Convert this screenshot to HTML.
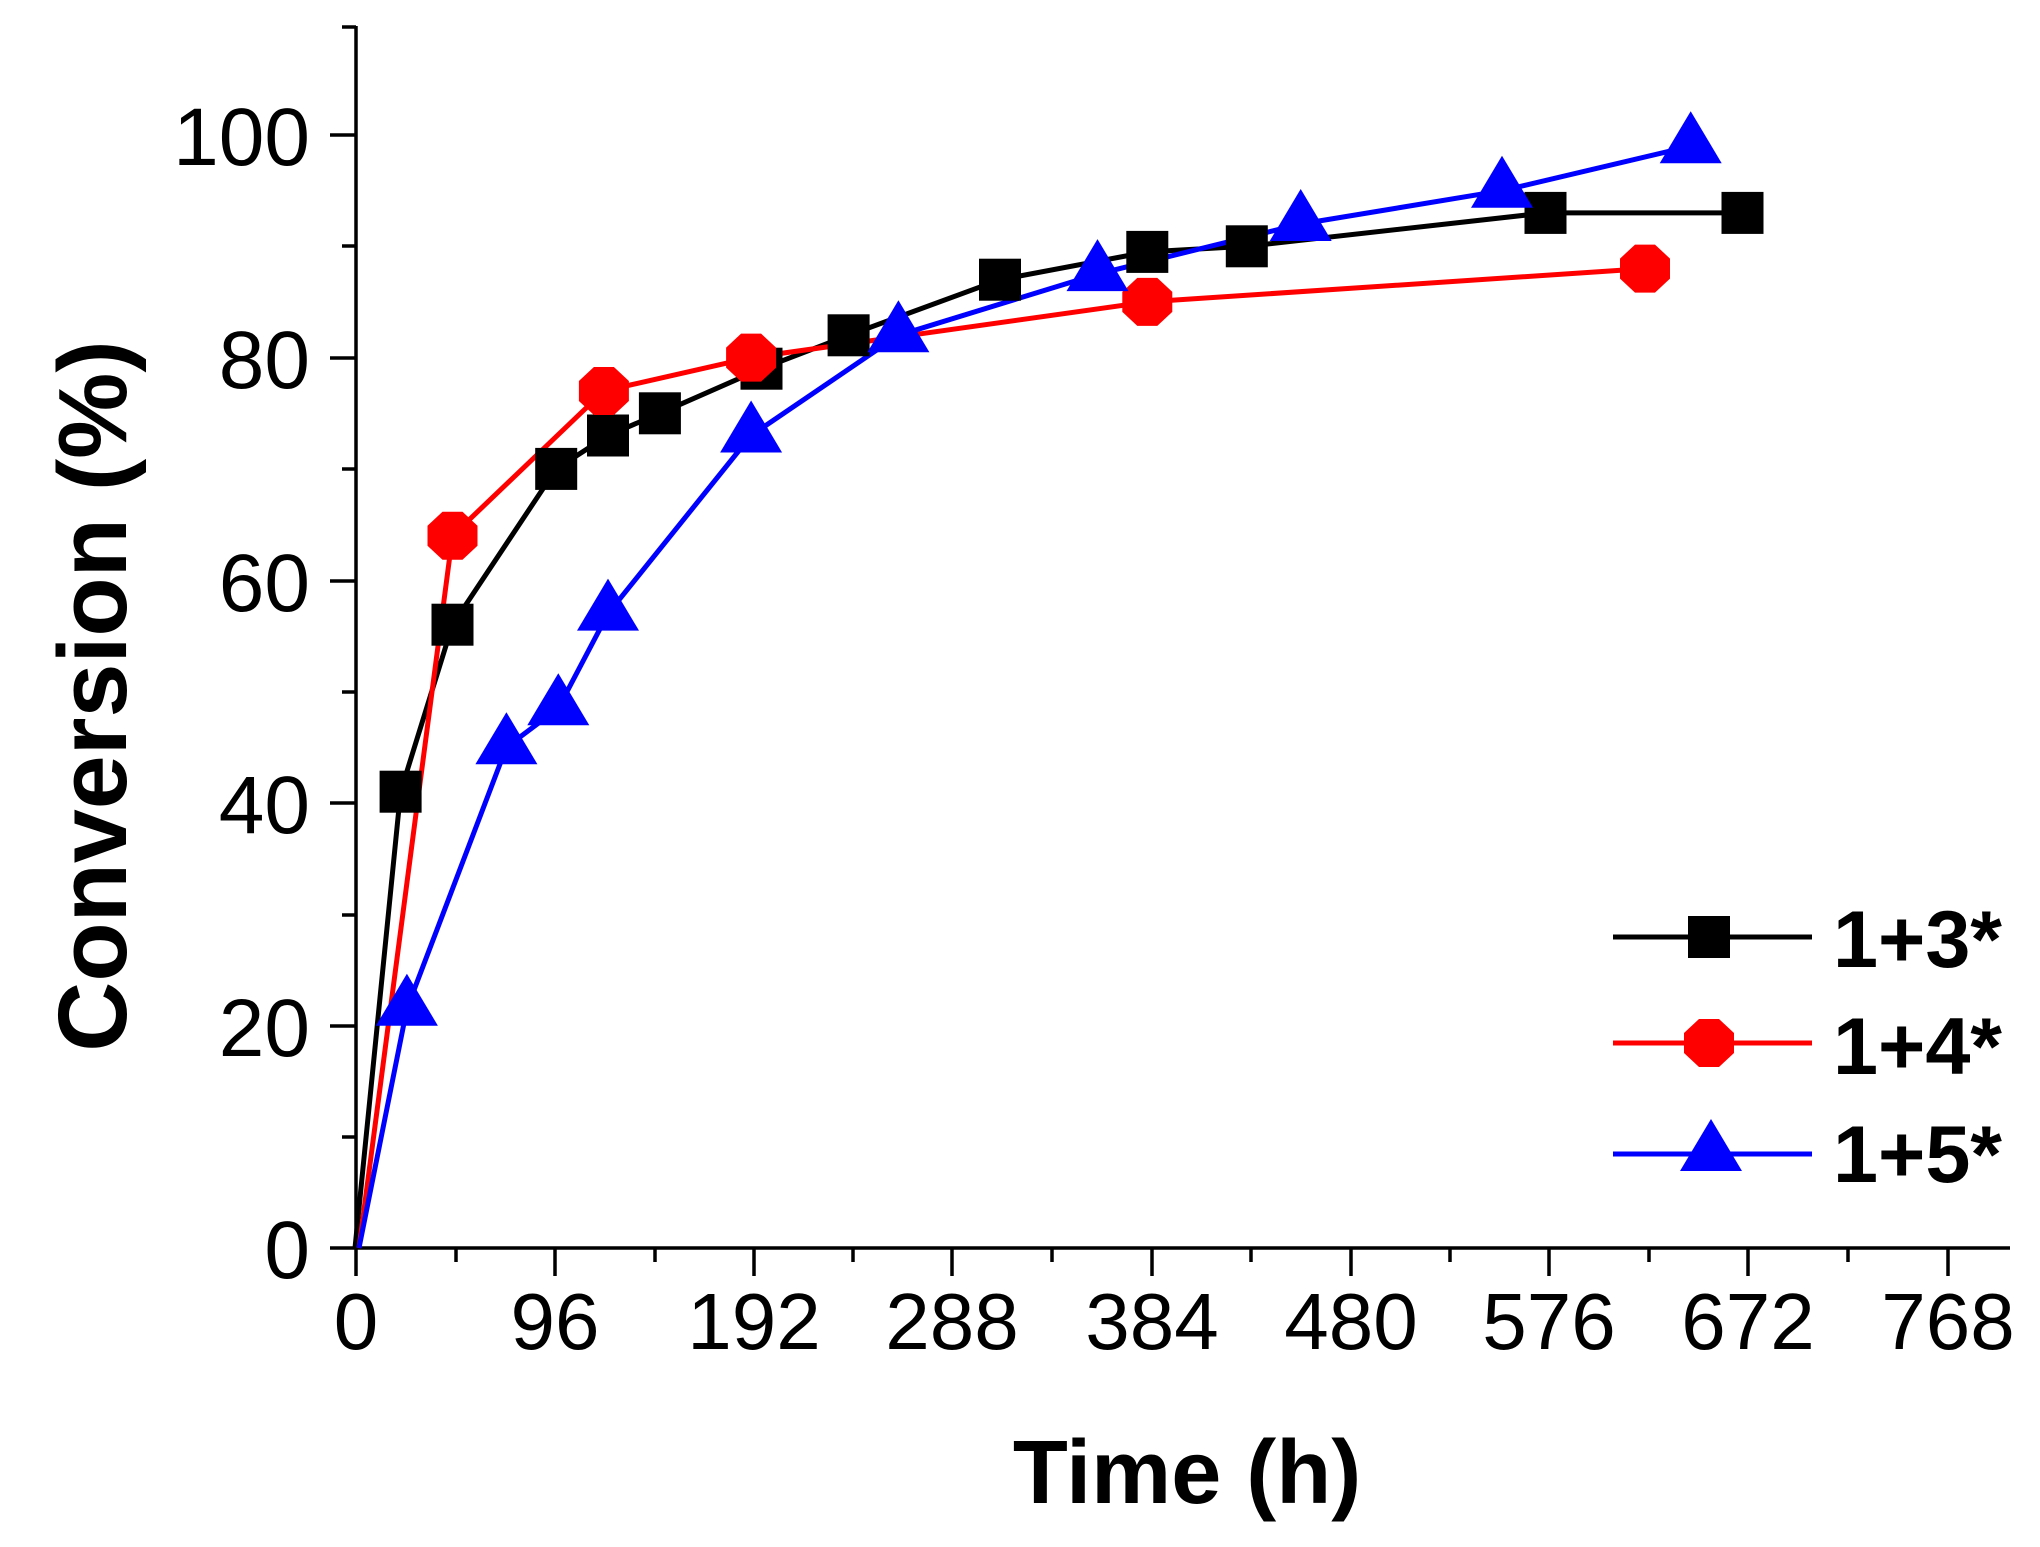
<!DOCTYPE html>
<html><head><meta charset="utf-8"><style>html,body{margin:0;padding:0;background:#fff}svg{display:block}</style></head>
<body>
<svg xmlns="http://www.w3.org/2000/svg" width="2040" height="1547" viewBox="0 0 2040 1547">
<defs>
<rect id="sq" x="-21" y="-21" width="42" height="42" fill="#000"/>
<polygon id="oc" points="-10,-24 10,-24 25,-10 25,10 10,24 -10,24 -25,10 -25,-10" fill="#f00"/>
<polygon id="tr" points="0,-35 31,17 -31,17" fill="#00f"/>
</defs>
<g font-family="Liberation Sans, sans-serif" fill="#000">
<g stroke="#000" stroke-width="3.5" fill="none">
<line x1="356" y1="26" x2="356" y2="1248"/>
<line x1="330" y1="1248" x2="2010" y2="1248"/>
<line x1="342" y1="27" x2="356" y2="27"/>
<line x1="330" y1="135" x2="356" y2="135"/>
<line x1="330" y1="358" x2="356" y2="358"/>
<line x1="330" y1="581" x2="356" y2="581"/>
<line x1="330" y1="803" x2="356" y2="803"/>
<line x1="330" y1="1026" x2="356" y2="1026"/>
<line x1="342" y1="246" x2="356" y2="246"/>
<line x1="342" y1="469" x2="356" y2="469"/>
<line x1="342" y1="692" x2="356" y2="692"/>
<line x1="342" y1="915" x2="356" y2="915"/>
<line x1="342" y1="1137" x2="356" y2="1137"/>
<line x1="356" y1="1248" x2="356" y2="1276"/>
<line x1="555" y1="1248" x2="555" y2="1276"/>
<line x1="754" y1="1248" x2="754" y2="1276"/>
<line x1="952" y1="1248" x2="952" y2="1276"/>
<line x1="1152" y1="1248" x2="1152" y2="1276"/>
<line x1="1351" y1="1248" x2="1351" y2="1276"/>
<line x1="1549" y1="1248" x2="1549" y2="1276"/>
<line x1="1748" y1="1248" x2="1748" y2="1276"/>
<line x1="1948" y1="1248" x2="1948" y2="1276"/>
<line x1="456" y1="1248" x2="456" y2="1262"/>
<line x1="655" y1="1248" x2="655" y2="1262"/>
<line x1="853" y1="1248" x2="853" y2="1262"/>
<line x1="1052" y1="1248" x2="1052" y2="1262"/>
<line x1="1251" y1="1248" x2="1251" y2="1262"/>
<line x1="1450" y1="1248" x2="1450" y2="1262"/>
<line x1="1649" y1="1248" x2="1649" y2="1262"/>
<line x1="1848" y1="1248" x2="1848" y2="1262"/>
</g>
<g font-size="82" text-anchor="end">
<text x="310" y="165">100</text>
<text x="310" y="388">80</text>
<text x="310" y="611">60</text>
<text x="310" y="833">40</text>
<text x="310" y="1056">20</text>
<text x="310" y="1278">0</text>
</g>
<g font-size="80" text-anchor="middle">
<text x="356" y="1349">0</text>
<text x="555" y="1349">96</text>
<text x="754" y="1349">192</text>
<text x="952" y="1349">288</text>
<text x="1152" y="1349">384</text>
<text x="1351" y="1349">480</text>
<text x="1549" y="1349">576</text>
<text x="1748" y="1349">672</text>
<text x="1948" y="1349">768</text>
</g>
<text x="1187" y="1503" font-size="90" font-weight="bold" text-anchor="middle">Time (h)</text>
<text transform="translate(126,696) rotate(-90)" font-size="97" font-weight="bold" text-anchor="middle">Conversion (%)</text>
</g>
<g fill="none" stroke-width="5" stroke-linejoin="round">
<polyline stroke="#000" points="355,1248 400.6,791.7 452.5,624.7 556.2,468.9 608,435.5 659.9,413.3 761.5,368.7 848.6,335.3 1000,279.7 1147.3,251.9 1246.8,246.3 1545.5,212.9 1742.5,212.9"/>
<polyline stroke="#f00" points="359,1248 452.5,535.7 603.9,391 751.1,357.6 1147.3,301.9 1645,268.6"/>
<polyline stroke="#00f" points="359,1248 406.9,1008.7 506.4,747.2 558.3,708.2 608,613.6 751.1,435.5 898.4,335.3 1097.5,274.1 1300.7,224 1502,190.7 1690.7,146.2"/>
</g>
<g>
<use href="#sq" x="400.6" y="791.7"/><use href="#sq" x="452.5" y="624.7"/><use href="#sq" x="556.2" y="468.9"/><use href="#sq" x="608" y="435.5"/><use href="#sq" x="659.9" y="413.3"/><use href="#sq" x="761.5" y="368.7"/><use href="#sq" x="848.6" y="335.3"/><use href="#sq" x="1000" y="279.7"/><use href="#sq" x="1147.3" y="251.9"/><use href="#sq" x="1246.8" y="246.3"/><use href="#sq" x="1545.5" y="212.9"/><use href="#sq" x="1742.5" y="212.9"/>
<use href="#oc" x="452.5" y="535.7"/><use href="#oc" x="603.9" y="391"/><use href="#oc" x="751.1" y="357.6"/><use href="#oc" x="1147.3" y="301.9"/><use href="#oc" x="1645" y="268.6"/>
<use href="#tr" x="406.9" y="1008.7"/><use href="#tr" x="506.4" y="747.2"/><use href="#tr" x="558.3" y="708.2"/><use href="#tr" x="608" y="613.6"/><use href="#tr" x="751.1" y="435.5"/><use href="#tr" x="898.4" y="335.3"/><use href="#tr" x="1097.5" y="274.1"/><use href="#tr" x="1300.7" y="224"/><use href="#tr" x="1502" y="190.7"/><use href="#tr" x="1690.7" y="146.2"/>
</g>
<g stroke-width="5">
<line x1="1613" y1="937" x2="1812" y2="937" stroke="#000"/>
<line x1="1613" y1="1043" x2="1812" y2="1043" stroke="#f00"/>
<line x1="1613" y1="1154" x2="1812" y2="1154" stroke="#00f"/>
</g>
<use href="#sq" x="1709" y="937"/>
<use href="#oc" x="1709" y="1043"/>
<use href="#tr" x="1711" y="1154"/>
<g font-family="Liberation Sans, sans-serif" font-size="81" font-weight="bold" fill="#000">
<text x="1833" y="967">1+3*</text>
<text x="1833" y="1074">1+4*</text>
<text x="1833" y="1182">1+5*</text>
</g>
</svg>
</body></html>
